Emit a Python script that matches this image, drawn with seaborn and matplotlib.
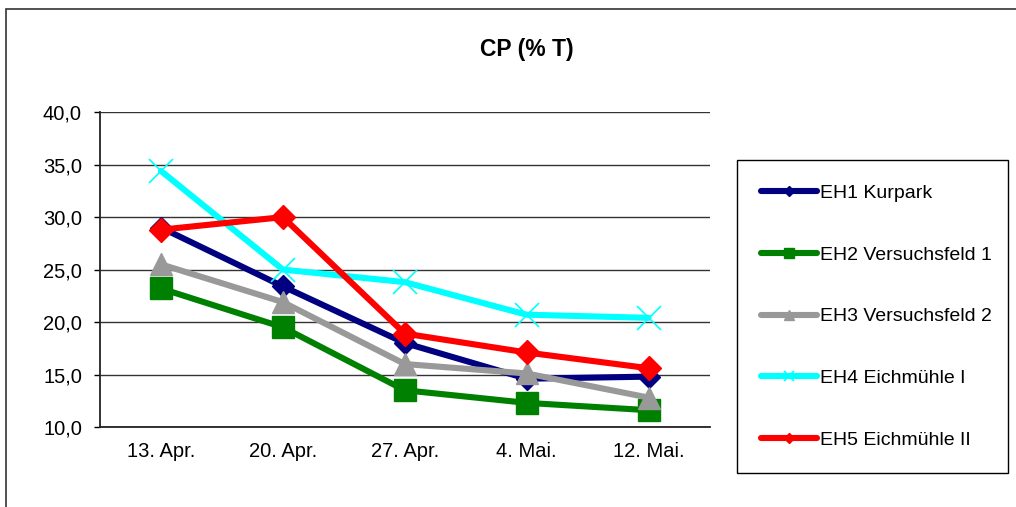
import numpy as np
import pandas as pd
import seaborn as sns
import matplotlib.pyplot as plt
from matplotlib.ticker import FuncFormatter, FixedLocator
from matplotlib.patches import Rectangle

dates = ["13. Apr.", "20. Apr.", "27. Apr.", "4. Mai.", "12. Mai."]
eh1 = [29.0, 23.4, 18.0, 14.6, 14.8]
eh2 = [23.2, 19.5, 13.5, 12.3, 11.6]
eh3 = [25.5, 21.9, 16.0, 15.1, 12.8]
eh4 = [34.4, 25.0, 23.8, 20.7, 20.4]
eh5 = [28.8, 30.0, 18.9, 17.1, 15.6]
names = ["EH1 Kurpark", "EH2 Versuchsfeld 1", "EH3 Versuchsfeld 2",
         "EH4 Eichmühle I", "EH5 Eichmühle II"]

sns.set_style("white")
plt.rcParams['font.family'] = ['Liberation Sans', 'DejaVu Sans']
plt.rcParams['text.color'] = 'black'
plt.rcParams['xtick.color'] = 'black'
plt.rcParams['ytick.color'] = 'black'

fig = plt.figure(figsize=(10.16, 5.07), dpi=100)
ax = fig.add_axes([0.0984, 0.1578, 0.600, 0.621])

# colour, marker, marker size, edge width
styles = [
    ("#000080", "D", 11, 1),
    ("#008000", "s", 16, 1),
    ("#999999", "^", 16, 1),
    ("#00FFFF", "x", 17, 1.2),
    ("#FF0000", "D", 12, 1),
]

for vals, name, (col, mk, ms, mew) in zip([eh1, eh2, eh3, eh4, eh5], names, styles):
    df = pd.DataFrame({"Datum": dates, "CP": vals})
    sns.lineplot(data=df, x="Datum", y="CP", sort=False, ax=ax, color=col,
                 lw=4.4, marker=mk, markersize=ms, markeredgecolor=col,
                 markerfacecolor=col, markeredgewidth=mew, label=name,
                 legend=False)

ax.set_xlim(-0.5, len(dates) - 0.5)
ax.set_ylim(10, 40)
ax.set_yticks(np.arange(10, 41, 5))
ax.yaxis.set_major_formatter(FuncFormatter(lambda v, p: f"{v:.1f}".replace(".", ",")))
ax.xaxis.set_minor_locator(FixedLocator(np.arange(-0.5, len(dates), 1.0)))
ax.tick_params(axis="x", which="major", length=0, pad=11, labelsize=14.5, labelcolor="black")
ax.tick_params(axis="x", which="minor", length=4, width=1, direction="out", color="#444444")
ax.tick_params(axis="y", length=4, width=1, direction="out", pad=9, labelsize=14.5,
               left=True, labelcolor="black")
ax.set_xlabel("")
ax.set_ylabel("")

ax.grid(axis="y", color="#333333", lw=1)
ax.grid(axis="x", visible=False)
for s in ["top", "right"]:
    ax.spines[s].set_visible(False)
for s in ["left", "bottom"]:
    ax.spines[s].set_color("#222222")
    ax.spines[s].set_linewidth(1.3)

fig.text(0.519, 0.903, "CP (% T)", ha="center", va="center", fontsize=16.5,
         fontweight="bold", color="black")

handles, labels = ax.get_legend_handles_labels()
leg = fig.legend(handles, labels, loc="upper left", bbox_to_anchor=(0.7254, 0.0789, 0.2667, 0.6055),
                 bbox_transform=fig.transFigure, mode="expand", borderaxespad=0,
                 fontsize=14, labelspacing=2.27, borderpad=1.25, handlelength=2.85,
                 handletextpad=0.15, markerscale=0.45, fancybox=False, framealpha=1)
leg.get_frame().set_edgecolor("#000000")
leg.get_frame().set_linewidth(1)
for t in leg.get_texts():
    t.set_color("black")

fig.patches.append(Rectangle((0.0059, -0.1), 1.2, 1.1 - 9 / 507, transform=fig.transFigure,
                             fill=False, edgecolor="#333333", lw=1.2))

fig.savefig("out.png", dpi=100)
